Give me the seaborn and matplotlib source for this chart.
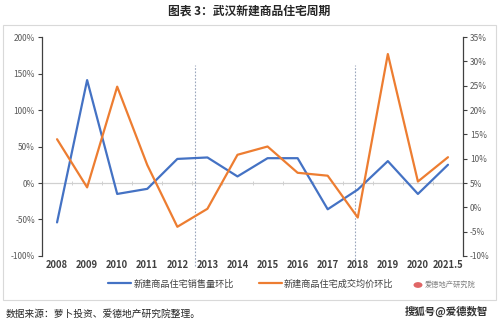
import matplotlib
matplotlib.use("Agg")
import matplotlib.pyplot as plt
import seaborn as sns
import pandas as pd
from matplotlib.patches import Rectangle, Circle

sns.set_theme(style="white")
plt.rcParams['font.family'] = ['Noto Sans CJK SC', 'DejaVu Sans']

years = ["2008", "2009", "2010", "2011", "2012", "2013", "2014", "2015",
         "2016", "2017", "2018", "2019", "2020", "2021.5"]
sales_qoq = [-54, 141, -15, -8, 33, 35, 9, 34, 34, -36, -9, 30, -15, 25]
price_qoq = [14.0, 4.1, 24.8, 8.7, -4.0, -0.3, 10.8, 12.5, 7.1, 6.5, -2.1, 31.5, 5.3, 10.3]
left_ticks = [-100, -50, 0, 50, 100, 150, 200]
right_ticks = [-10, -5, 0, 5, 10, 15, 20, 25, 30, 35]
cycle_marks = [4.6, 9.9]

title = "图表 3：武汉新建商品住宅周期"
label_sales = "新建商品住宅销售量环比"
label_price = "新建商品住宅成交均价环比"
source = "数据来源：萝卜投资、爱德地产研究院整理。"
watermark = "搜狐号@爱德数智"
logo_text = "爱德地产研究院"

BLUE = "#4472C4"
ORANGE = "#ED7D31"
GRAY = "#595959"

df = pd.DataFrame({"x": range(len(years)), "year": years,
                   "sales": sales_qoq, "price": price_qoq})

fig = plt.figure(figsize=(4.99, 3.22), dpi=100)
fig.patch.set_facecolor("white")
ax = fig.add_axes([0.0842, 0.205, 0.8437, 0.680])
ax2 = ax.twinx()

sns.lineplot(data=df, x="x", y="sales", ax=ax, color=BLUE, linewidth=1.6, label=label_sales, legend=False)
sns.lineplot(data=df, x="x", y="price", ax=ax2, color=ORANGE, linewidth=1.6, label=label_price, legend=False)

ax.set_xlim(-0.5, len(years) - 0.5)
ax.set_ylim(-100, 200)
ax2.set_ylim(-10, 35)
ax.set_yticks(left_ticks)
ax.set_yticklabels([f"{v}%" for v in left_ticks])
ax2.set_yticks(right_ticks)
ax2.set_yticklabels([f"{v}%" for v in right_ticks])
ax.set_xticks(range(len(years)))
ax.set_xticklabels(years)
ax.set_xlabel("")
ax.set_ylabel("")
ax2.set_ylabel("")

for a in (ax, ax2):
    for s in a.spines.values():
        s.set_visible(False)
ax.spines['left'].set_visible(True)
ax.spines['left'].set_color("#404040")
ax.spines['left'].set_linewidth(0.9)
ax2.spines['right'].set_visible(True)
ax2.spines['right'].set_color("#404040")
ax2.spines['right'].set_linewidth(0.9)

ax.tick_params(axis='y', direction='out', length=3, width=0.8, color="#404040",
               labelsize=6, labelcolor=GRAY, pad=2, left=True)
ax2.tick_params(axis='y', direction='out', length=3, width=0.8, color="#404040",
                labelsize=6, labelcolor=GRAY, pad=2, right=True)
ax.tick_params(axis='x', length=0, labelsize=6.8, labelcolor="#404040", pad=3)
for lab in ax.get_xticklabels():
    lab.set_fontweight("bold")

# zero line with small category ticks
ax.axhline(0, color="#D0D0D0", linewidth=0.9, zorder=0)
sec = ax.secondary_xaxis(1/3)
sec.set_xticks([i + 0.5 for i in range(len(years) - 1)])
sec.set_xticklabels([])
sec.spines['bottom'].set_visible(False)
sec.tick_params(axis='x', direction='inout', length=3, width=0.7, color="#D0D0D0")

for xv in cycle_marks:
    ax.axvline(xv, ymin=-0.045, ymax=0.872, color="#9AA6BC", linestyle=(0, (1.5, 1.5)),
               linewidth=0.8, clip_on=False, zorder=0)

# outer frame
fig.patches.append(Rectangle((0.006, 1 - 300/322), 0.988, (300 - 25)/322, transform=fig.transFigure,
                             fill=False, edgecolor="#D9D9D9", linewidth=0.8))

fig.text(0.5, 1 - 11/322, title, ha="center", va="center", fontsize=8.5, fontweight="bold", color="#262626")

# legend
handles = [ax.get_lines()[0], ax2.get_lines()[0]]
fig.legend(handles, [label_sales, label_price], loc="center", bbox_to_anchor=(0.503, 1 - 284/322),
           ncol=2, frameon=False, fontsize=6.6, handlelength=2.5, columnspacing=2.7, handletextpad=0.25,
           labelcolor="#404040")
fig.patches.append(Circle((418/499, 1 - 285/322), 0.009, transform=fig.transFigure,
                          facecolor="#E06666", edgecolor="none"))
fig.text(425/499, 1 - 285/322, logo_text, ha="left", va="center", fontsize=5.2, color="#808080")

fig.text(0.012, 1 - 314/322, source, ha="left", va="center", fontsize=7, color="#262626")
fig.text(0.978, 1 - 311/322, watermark, ha="right", va="center", fontsize=7.5, fontweight="bold", color="#333333")

fig.savefig("out.png", dpi=100, facecolor="white")
